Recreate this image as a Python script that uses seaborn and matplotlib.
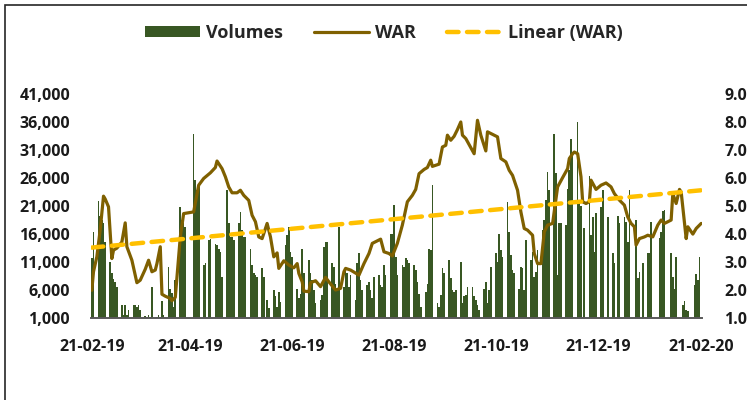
import numpy as np
import pandas as pd
import matplotlib
matplotlib.use("Agg")
import matplotlib.pyplot as plt
import matplotlib.dates as mdates
from matplotlib.lines import Line2D
from matplotlib.patches import Patch, Rectangle
from matplotlib.ticker import FuncFormatter, FixedLocator
import seaborn as sns

START = "2019-02-21"
END = "2020-02-21"

# daily volumes in thousands, one list per month (business days only)
vol_feb19 = [11.7, 16.4, 21.9, 19.2, 18.5, 18.0]
vol_mar19 = [14.6, 11.1, 9.1, 8.0, 7.5, 6.6, 3.4, 1.6, 3.4, 1.6, 2.5,
             3.4, 3.4, 3.1, 3.4, 2.5, 1.4, 1.2, 1.6, 1.3, 6.5]
vol_apr19 = [1.3, 1.6, 1.3, 4.1, 1.6, 10.2, 6.2, 5.6, 3.1, 7.8, 20.8,
             18.5, 18.0, 17.3, 0, 0, 33.9, 25.6, 23.8, 25.0, 10.5, 10.8]
vol_may19 = [0, 14.9, 15.2, 14.3, 14.0, 13.4, 12.9, 8.4, 23.8, 17.9, 15.5, 15.5,
             14.9, 17.9, 20.0, 16.7, 15.5, 15.5, 13.4, 10.5, 9.0, 8.7, 8.4]
vol_jun19 = [9.9, 8.4, 1.0, 4.3, 2.8, 6.0, 4.9, 3.1, 5.7, 4.0,
             14.0, 15.8, 17.3, 12.9, 12.0, 6.3, 4.6, 5.4, 13.4, 9.0]
vol_jul19 = [11.4, 9.0, 7.8, 6.0, 3.7, 4.3, 5.1, 13.7, 14.6, 14.6, 10.8, 10.2,
             7.2, 6.0, 17.3, 6.6, 9.6, 9.0, 6.6, 8.7, 4.3, 10.8, 12.6]
vol_aug19 = [7.8, 6.0, 6.9, 7.5, 6.0, 4.6, 8.4, 8.7, 6.9, 6.6, 10.5,
             8.7, 16.1, 16.1, 21.1, 12.0, 8.7, 10.5, 10.2, 11.7, 11.4, 10.8]
vol_sep19 = [10.5, 9.6, 7.5, 5.4, 3.1, 5.7, 7.2, 13.4, 13.1, 24.7, 3.7,
             3.1, 5.1, 9.9, 9.0, 11.4, 8.1, 6.0, 5.7, 6.0, 11.0]
vol_oct19 = [3.7, 4.9, 5.1, 6.6, 6.6, 4.9, 4.3, 3.4, 2.5, 6.3, 7.5, 3.7,
             6.0, 10.2, 12.6, 11.1, 16.1, 13.1, 12.0, 21.7, 16.4, 12.3, 9.6]
vol_nov19 = [9.0, 6.3, 10.2, 9.9, 6.0, 14.9, 11.4, 12.9, 8.4, 9.3, 13.1,
             16.7, 18.5, 22.0, 27.1, 23.8, 33.9, 26.8, 8.7, 18.0, 18.0]
vol_dec19 = [17.6, 24.1, 27.4, 33.0, 30.6, 36.0, 22.0, 21.0, 1.0, 17.0, 26.3,
             15.9, 19.1, 12.9, 19.7, 20.9, 23.8, 0, 0, 19.1, 12.7, 10.9]
vol_jan20 = [0, 19.3, 17.9, 19.1, 18.2, 14.6, 23.8, 1.0, 18.5, 8.1, 9.3, 1.0,
             10.9, 12.7, 12.7, 18.2, 1.0, 1.0, 15.3, 16.3, 20.1, 20.3, 1.0]
vol_feb20 = [12.6, 8.4, 6.2, 12.0, 1.0, 3.4, 4.1, 2.5, 2.4, 1.0,
             6.9, 8.9, 7.8, 12.0, 1.0]

# WAR readings: calendar days after START and the rate
war_day = [0, 1, 3, 5, 7, 8, 10, 12, 13, 15, 18, 20, 21, 24, 27, 29, 32, 34, 36,
           38, 39, 41, 42, 44, 47, 48, 50, 53, 55, 61, 64, 67, 71, 74, 75, 78, 80,
           82, 84, 87, 89, 91, 94, 96, 98, 100, 102, 105, 107, 109, 111, 112, 115,
           118, 121, 123, 124, 126, 127, 130, 131, 134, 137, 140, 142, 146, 149,
           151, 152, 155, 160, 163, 166, 168, 171, 173, 175, 178, 180, 183, 186,
           189, 192, 194, 196, 199, 201, 203, 204, 208, 210, 212, 213, 215, 217,
           219, 221, 222, 224, 229, 231, 233, 236, 237, 243, 245, 248, 250, 252,
           255, 257, 259, 261, 264, 265, 267, 269, 271, 273, 276, 279, 282, 285,
           286, 288, 289, 291, 293, 294, 296, 298, 299, 302, 305, 308, 311, 313,
           316, 319, 321, 323, 325, 326, 328, 331, 333, 336, 339, 341, 343, 347,
           348, 350, 352, 353, 356, 357, 360, 362, 365]
war_value = [2.00, 2.66, 3.19, 4.14, 5.35, 5.25, 4.97, 3.13, 3.43, 3.50, 3.72, 4.40,
             3.55, 3.07, 2.27, 2.36, 2.75, 3.07, 2.66, 2.72, 2.95, 3.55, 1.86, 1.79,
             1.71, 1.63, 1.75, 3.90, 4.73, 4.79, 5.74, 5.98, 6.18, 6.37, 6.60, 6.33,
             6.04, 5.68, 5.47, 5.47, 5.56, 5.38, 5.20, 4.67, 4.44, 3.90, 3.84, 4.38,
             3.90, 3.19, 3.33, 2.78, 3.05, 2.90, 2.80, 2.95, 2.60, 2.30, 1.97, 1.95,
             2.27, 2.34, 2.13, 2.46, 2.30, 2.01, 2.07, 2.66, 2.78, 2.72, 2.54, 2.95,
             3.31, 3.67, 3.76, 3.82, 3.37, 3.31, 3.22, 3.67, 4.32, 5.15, 5.38, 5.59,
             6.15, 6.30, 6.37, 6.63, 6.41, 6.49, 7.10, 7.16, 7.52, 7.34, 7.48, 7.72,
             7.99, 7.52, 7.40, 6.86, 8.05, 7.52, 6.96, 7.64, 7.46, 6.69, 6.57, 6.27,
             6.09, 5.56, 4.79, 4.20, 4.14, 3.96, 3.31, 2.95, 2.95, 4.08, 4.32, 4.38,
             5.68, 6.01, 6.33, 6.69, 6.86, 6.92, 6.86, 6.04, 5.15, 5.09, 5.15, 5.92,
             5.59, 5.74, 5.82, 5.68, 5.44, 5.21, 5.03, 4.61, 4.38, 4.26, 3.61, 3.84,
             3.90, 3.96, 3.90, 4.32, 4.50, 4.38, 4.50, 5.44, 5.09, 5.59, 5.50, 3.84,
             4.26, 4.00, 4.20, 4.38]

# Linear (WAR) trendline, read at both ends
trend_day = [0, 365]
trend_value = [3.52, 5.56]

tick_dates = ["2019-02-21", "2019-04-21", "2019-06-21", "2019-08-21",
              "2019-10-21", "2019-12-21", "2020-02-21"]
left_ticks = [1000, 6000, 11000, 16000, 21000, 26000, 31000, 36000, 41000]
right_ticks = [1, 2, 3, 4, 5, 6, 7, 8, 9]

GREEN = "#385723"
BROWN = "#7f6000"
GOLD = "#ffc000"
DASH = (0, (2.6, 1.9))

sns.set_theme(style="white")
plt.rcParams["font.family"] = ["Open Sans", "DejaVu Sans"]
plt.rcParams["font.weight"] = "bold"

dates = pd.bdate_range(START, END)
volumes = np.concatenate([vol_feb19, vol_mar19, vol_apr19, vol_may19, vol_jun19,
                          vol_jul19, vol_aug19, vol_sep19, vol_oct19, vol_nov19,
                          vol_dec19, vol_jan20, vol_feb20]) * 1000
assert len(volumes) == len(dates), (len(volumes), len(dates))

t0 = pd.Timestamp(START)
war = pd.DataFrame({"date": t0 + pd.to_timedelta(war_day, unit="D"), "war": war_value})
trend = pd.DataFrame({"date": t0 + pd.to_timedelta(trend_day, unit="D"), "war": trend_value})

fig = plt.figure(figsize=(7.47, 4.0), dpi=100)
ax = fig.add_axes([0.1218, 0.204, 0.818, 0.562])
ax.bar(dates, volumes, width=1.0, color=GREEN, linewidth=0)

ax2 = ax.twinx()
sns.lineplot(data=war, x="date", y="war", ax=ax2, color=BROWN, linewidth=2.3)
sns.lineplot(data=trend, x="date", y="war", ax=ax2, color=GOLD, linewidth=3.2,
             linestyle=DASH, dash_capstyle="round")

ax.set_ylim(1000, 41000)
ax2.set_ylim(1, 9)
ax.set_xlim(mdates.date2num(t0) - 0.5, mdates.date2num(pd.Timestamp(END)) + 0.5)
ax.xaxis.set_major_locator(FixedLocator(mdates.date2num(pd.to_datetime(tick_dates))))
ax.xaxis.set_major_formatter(mdates.DateFormatter("%d-%m-%y"))
ax.yaxis.set_major_locator(FixedLocator(left_ticks))
ax.yaxis.set_major_formatter(FuncFormatter(lambda v, p: f"{int(v):,}"))
ax2.yaxis.set_major_locator(FixedLocator(right_ticks))
ax2.yaxis.set_major_formatter(FuncFormatter(lambda v, p: f"{v:.2f}"))
for a in (ax, ax2):
    a.set_xlabel("")
    a.set_ylabel("")
    a.grid(False)
    for s in a.spines.values():
        s.set_visible(False)
ax.spines["bottom"].set_visible(True)
ax.spines["bottom"].set_color("#595959")
ax.spines["bottom"].set_linewidth(1.4)
ax.tick_params(axis="x", length=0, pad=15, labelsize=11.5, labelcolor="#1a1a1a")
ax.tick_params(axis="y", length=0, pad=15, labelsize=11.5, labelcolor="#1a1a1a")
ax2.tick_params(axis="y", length=0, pad=16, labelsize=11.5, labelcolor="#1a1a1a")

handles = [Patch(facecolor=GREEN, edgecolor="none"),
           Line2D([], [], color=BROWN, linewidth=2.3),
           Line2D([], [], color=GOLD, linewidth=3.2, linestyle=DASH, dash_capstyle="round")]
fig.legend(handles, ["Volumes", "WAR", "Linear (WAR)"], loc="center",
           bbox_to_anchor=(384 / 747, 1 - 33 / 400), ncol=3, frameon=False,
           prop={"size": 13, "weight": "bold"}, handlelength=3.0, handleheight=0.5,
           handletextpad=0.35, columnspacing=1.75)

fig.add_artist(Rectangle((5 / 747, -0.1), 1.2, 1.1 - 5 / 400, transform=fig.transFigure,
                         fill=False, edgecolor="#262626", linewidth=1.2))

fig.savefig("out.png", dpi=100)
